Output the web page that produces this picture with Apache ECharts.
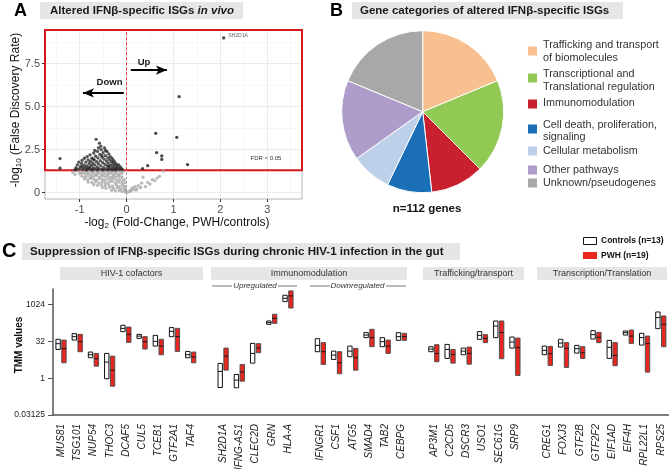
<!DOCTYPE html>
<html><head><meta charset="utf-8">
<script src="https://cdn.jsdelivr.net/npm/echarts@6.0.0/dist/echarts.min.js"></script>
<style>html,body{margin:0;padding:0;background:#fff}#c{width:669px;height:469px}</style>
</head><body><div id="c"></div>
<script>
var FONT = '"Liberation Sans", Arial, Helvetica, sans-serif';

// ---------- Panel A: volcano ----------
var volcanoUp = [[2.07,9.0],[1.12,5.58],[0.62,3.45],[1.07,3.22],[0.64,2.33],[0.75,2.13],[0.75,1.93],[1.30,1.63],[0.45,1.57],[0.34,1.40]];
var volcanoUpNames = ['SH2D1A','','','','','','','','',''];
var volcanoDown = [[-1.42,1.98],[-1.42,1.42],[-1.10,1.33],[-1.08,1.45],[-1.06,1.36],[-1.05,1.62],[-1.02,1.78],[-1.00,1.40],[-0.98,1.52],[-0.96,1.70],[-0.95,1.88],[-0.94,1.48],[-0.93,1.35],[-0.91,1.60],[-0.90,2.00],[-0.88,1.45],[-0.87,1.78],[-0.86,1.32],[-0.85,1.55],[-0.84,2.10],[-0.83,1.38],[-0.82,1.90],[-0.81,1.42],[-0.80,1.68],[-0.79,1.48],[-0.78,2.20],[-0.77,1.82],[-0.76,1.36],[-0.75,1.58],[-0.74,2.00],[-0.73,1.32],[-0.72,1.72],[-0.71,1.44],[-0.71,1.95],[-0.70,2.30],[-0.69,1.90],[-0.68,1.62],[-0.68,2.45],[-0.67,1.38],[-0.66,2.12],[-0.65,3.10],[-0.64,1.80],[-0.63,1.50],[-0.62,2.40],[-0.62,1.33],[-0.61,2.02],[-0.60,1.68],[-0.60,2.60],[-0.59,1.40],[-0.58,2.88],[-0.57,2.22],[-0.56,1.86],[-0.55,1.56],[-0.55,2.70],[-0.54,2.50],[-0.53,1.35],[-0.53,2.15],[-0.52,2.06],[-0.51,1.74],[-0.50,2.32],[-0.50,1.32],[-0.49,1.46],[-0.48,1.95],[-0.47,2.60],[-0.46,1.64],[-0.45,2.15],[-0.45,2.45],[-0.44,1.38],[-0.43,1.84],[-0.42,2.40],[-0.41,1.55],[-0.40,2.02],[-0.40,1.33],[-0.39,1.72],[-0.38,2.25],[-0.38,1.52],[-0.37,1.42],[-0.36,1.90],[-0.35,2.10],[-0.34,1.60],[-0.33,1.36],[-0.32,1.80],[-0.31,2.00],[-0.30,1.50],[-0.30,1.32],[-0.29,1.70],[-0.28,1.88],[-0.27,1.40],[-0.26,1.60],[-0.25,1.78],[-0.24,1.46],[-0.23,1.32],[-0.22,1.66],[-0.21,1.38],[-0.20,1.55],[-0.18,1.44],[-0.17,1.62],[-0.15,1.36],[-0.13,1.50],[-0.11,1.40],[-0.09,1.34]];
var volcanoNS = [[-1.15,1.18],[-1.10,1.05],
[-1.05,1.25],[-0.98,1.22],[-0.92,1.27],[-0.86,1.20],[-0.80,1.26],[-0.74,1.22],[-0.68,1.27],[-0.62,1.21],[-0.56,1.26],[-0.50,1.22],[-0.44,1.27],[-0.38,1.20],[-0.32,1.25],[-0.26,1.21],[-0.20,1.26],[-0.14,1.22],[-0.08,1.25],
[-1.00,1.10],[-0.94,1.14],[-0.88,1.08],[-0.82,1.13],[-0.76,1.06],[-0.70,1.12],[-0.64,1.07],[-0.58,1.14],[-0.52,1.05],[-0.46,1.11],[-0.40,1.08],[-0.34,1.13],[-0.28,1.06],[-0.22,1.10],[-0.16,1.04],[-0.10,1.12],
[-0.95,0.96],[-0.88,0.92],[-0.82,0.98],[-0.76,0.90],[-0.70,0.95],[-0.64,0.99],[-0.58,0.91],[-0.52,0.97],[-0.46,0.93],[-0.40,0.98],[-0.34,0.90],[-0.28,0.95],[-0.22,0.92],[-0.16,0.97],[-0.10,0.90],
[-0.90,0.80],[-0.83,0.76],[-0.77,0.83],[-0.70,0.78],[-0.64,0.74],[-0.58,0.82],[-0.52,0.77],[-0.46,0.72],[-0.40,0.80],[-0.34,0.75],[-0.28,0.82],[-0.22,0.73],[-0.16,0.78],[-0.10,0.70],[-0.05,0.76],
[-0.82,0.62],[-0.74,0.58],[-0.66,0.64],[-0.59,0.57],[-0.52,0.62],[-0.45,0.55],[-0.38,0.60],[-0.31,0.65],[-0.24,0.56],[-0.17,0.61],[-0.10,0.54],[-0.04,0.58],
[-0.70,0.46],[-0.62,0.42],[-0.54,0.47],[-0.46,0.40],[-0.38,0.45],[-0.30,0.38],[-0.22,0.44],[-0.15,0.37],[-0.08,0.42],[-0.03,0.35],
[-0.52,0.30],[-0.44,0.26],[-0.36,0.31],[-0.28,0.24],[-0.20,0.29],[-0.13,0.22],[-0.06,0.26],[-0.02,0.18],
[-0.32,0.14],[-0.24,0.10],[-0.16,0.13],[-0.10,0.08],[-0.04,0.06],[0.00,0.02],[-0.02,0.10],
[0.78,1.26],[0.35,0.90],[0.55,0.75],[0.45,0.60],[0.65,0.85],[0.25,0.40],[0.15,0.20],[0.30,0.30],[0.20,0.15],[0.10,0.10],[0.40,0.35],[0.50,0.50],[0.05,0.05],[0.12,0.28],[0.22,0.22],[0.08,0.15],[0.18,0.35],[0.60,0.70],[0.70,0.95],[0.32,0.55]];
var fdrThreshold = 1.3;
var xTicksA = [-1, 0, 1, 2, 3];
var yTicksA = [0, 2.5, 5, 7.5];

// ---------- Panel B: pie ----------
var pieCategories = ['Trafficking and transport\nof biomolecules','Transcriptional and\nTranslational regulation','Immunomodulation','Cell death, proliferation,\nsignaling','Cellular metabolism','Other pathways','Unknown/pseudogenes'];
var pieCounts = [21, 21, 12, 10, 9, 18, 21];
var pieColors = ['#F8C08F','#92C854','#C8202F','#1B6FB6','#BDD0E9','#AE9DCB','#A8A8A8'];

// ---------- Panel C: TMM boxes (log2 TMM) ----------
var genes = ['MUS81','TSG101','NUP54','THOC3','DCAF5','CUL5','TCEB1','GTF2A1','TAF4',' ',
 'SH2D1A','IFNG-AS1','CLEC2D','GRN','HLA-A','  ',
 'IFNGR1','CSF1','ATG5','SMAD4','TAB2','CEBPG','   ',
 'AP3M1','C2CD5','DSCR3','USO1','SEC61G','SRP9','    ',
 'CREG1','FOXJ3','GTF2B','GTF2F2','EIF1AD','EIF4H','RPL22L1','RPS25'];
var ctrlLow  = [3.9,5.17,2.77,-0.08,6.31,5.40,4.35,5.63,2.77,null, -1.27,-1.31,2.04,7.31,10.39,null, 3.59,2.54,2.91,5.50,4.27,5.13,null, 3.59,2.68,3.18,5.27,5.50,4.08,null, 3.18,4.22,3.40,5.31,2.68,5.85,4.49,6.72];
var ctrlHigh = [5.27,6.04,3.54,3.36,7.17,5.95,5.81,6.86,3.63,null, 2.00,0.50,4.72,7.76,11.25,null, 5.36,3.67,4.35,6.18,5.50,6.18,null, 4.27,4.58,4.08,6.31,7.76,5.58,null, 4.35,5.27,4.45,6.45,5.13,6.40,6.08,8.98];
var ctrlMed  = [4.68,5.63,3.18,2.18,6.76,5.71,4.99,6.35,3.18,null, 0.91,-0.27,3.36,7.54,10.84,null, 4.45,3.13,3.67,5.85,4.95,5.63,null, 3.95,3.90,3.67,5.81,7.07,4.90,null, 3.77,4.76,4.00,5.90,4.18,6.18,5.50,8.22];
var pwhLow   = [2.09,3.59,1.63,-1.09,4.86,3.95,3.18,3.63,2.09,null, 1.09,-0.41,3.45,7.44,9.52,null, 1.86,0.60,1.09,4.27,3.36,5.13,null, 2.23,2.04,1.90,4.82,2.64,0.37,null, 1.73,1.46,2.68,4.82,1.69,4.72,0.82,4.27];
var pwhHigh  = [5.17,5.95,3.36,2.99,6.94,5.63,5.27,6.76,3.54,null, 4.08,1.86,4.68,8.67,11.84,null, 4.82,3.59,4.04,6.63,5.17,6.08,null, 4.54,3.90,4.22,5.90,7.76,5.44,null, 4.31,4.82,4.27,6.22,4.82,6.53,5.71,8.44];
var pwhMed   = [4.00,4.95,2.64,1.09,5.95,4.95,4.35,5.63,2.86,null, 2.99,0.82,4.08,8.12,11.16,null, 3.59,2.09,2.77,5.50,4.35,5.63,null, 3.36,3.22,3.36,5.40,6.18,4.13,null, 3.32,4.04,3.45,5.54,3.09,5.71,4.68,7.31];
var yTicksC = [-5, 0, 5, 10];
var facets = [
  {name:'HIV-1 cofactors', x0:60, x1:203},
  {name:'Immunomodulation', x0:211, x1:407},
  {name:'Trafficking/transport', x0:423, x1:524},
  {name:'Transcription/Translation', x0:537, x1:667}
];

function boxData(lo, hi, md) {
  var out = [];
  for (var i = 0; i < genes.length; i++) if (lo[i] != null) out.push([i, lo[i], hi[i], md[i]]);
  return out;
}
function boxRender(side, fill, stroke) {
  return function (params, api) {
    var ci = api.value(0);
    var pLo = api.coord([ci, api.value(1)]);
    var pHi = api.coord([ci, api.value(2)]);
    var pMd = api.coord([ci, api.value(3)]);
    var bw = api.size([1, 0])[0];
    var w = bw * 0.27;
    var x0 = side < 0 ? pLo[0] - bw * 0.32 : pLo[0] + bw * 0.04;
    var top = pHi[1], h = pLo[1] - pHi[1];
    if (h < 3) { top = (pLo[1] + pHi[1]) / 2 - 1.5; h = 3; }
    return {type:'group', children:[
      {type:'rect', shape:{x:x0, y:top, width:w, height:h}, style:{fill:fill, stroke:stroke, lineWidth:1}},
      {type:'line', shape:{x1:x0, y1:pMd[1], x2:x0 + w, y2:pMd[1]}, style:{stroke:'#111', lineWidth:1}}
    ]};
  };
}

var upData = volcanoUp.map(function (p, i) {
  var d = {value: p};
  if (volcanoUpNames[i]) d.label = {show:true, formatter: volcanoUpNames[i], position:'right', distance:3, fontSize:5, color:'#333', offset:[0,-2]};
  return d;
});

// graphics
var g = [];
function txt(x, y, text, font, opts) {
  var s = {x:x, y:y, text:text, font:font, fill:(opts && opts.fill) || '#1a1a1a', textAlign:(opts && opts.align) || 'left', textVerticalAlign:'middle'};
  if (opts && opts.rich) s.rich = opts.rich;
  var el = {type:'text', style:s, z:100};
  if (opts && opts.rotation) { el.rotation = opts.rotation; el.x = x; el.y = y; s.x = 0; s.y = 0; }
  g.push(el);
}
function rect(x, y, w, h, fill, stroke) {
  g.push({type:'rect', shape:{x:x, y:y, width:w, height:h}, style:{fill:fill, stroke:stroke || null, lineWidth:1}, z:90});
}
function line(x1, y1, x2, y2, color) {
  g.push({type:'line', shape:{x1:x1, y1:y1, x2:x2, y2:y2}, style:{stroke:color, lineWidth:1}, z:90});
}
// Panel letters & titles
txt(14, 11, 'A', 'bold 18px ' + FONT, {fill:'#000'});
txt(330, 11, 'B', 'bold 18px ' + FONT, {fill:'#000'});
txt(2, 251, 'C', 'bold 20px ' + FONT, {fill:'#000'});
rect(40, 2, 203, 17, '#e6e6e6');
txt(50, 10.5, '{b|Altered IFNβ-specific ISGs }{bi|in vivo}', '', {rich:{b:{font:'bold 11.5px ' + FONT, fill:'#1a1a1a'}, bi:{font:'italic bold 11.5px ' + FONT, fill:'#1a1a1a'}}});
rect(352, 2, 271, 17, '#e6e6e6');
txt(360, 10.5, 'Gene categories of altered IFNβ-specific ISGs', 'bold 11.5px ' + FONT);
rect(22, 243, 438, 17, '#e6e6e6');
txt(30, 251.5, 'Suppression of IFNβ-specific ISGs during chronic HIV-1 infection in the gut', 'bold 11.6px ' + FONT);
// Panel A annotations
txt(16, 110, '-log{s|10} (False Discovery Rate)', '12px ' + FONT, {rotation:Math.PI / 2, align:'center', fill:'#111', rich:{s:{font:'8px ' + FONT, fill:'#111', verticalAlign:'bottom', padding:[6,0,0,0]}}});
txt(177, 223, '-log{s|2} (Fold-Change, PWH/controls)', '12px ' + FONT, {align:'center', fill:'#111', rich:{s:{font:'8px ' + FONT, fill:'#111', verticalAlign:'bottom', padding:[6,0,0,0]}}});
txt(144, 62, 'Up', 'bold 9.5px ' + FONT, {align:'center'});
txt(109.5, 82, 'Down', 'bold 9.5px ' + FONT, {align:'center'});
txt(266, 158, 'FDR < 0.05', '6px ' + FONT, {align:'center', fill:'#333'});
// Panel B legend
var legY = [[51, 45, 57.7], [78, 74, 86.7], [104, 103.3], [129, 125, 136.7], [151, 151], [170, 170], [183, 183.3]];
pieCategories.forEach(function (c, i) {
  rect(528, legY[i][0] - 4.5, 9, 9, pieColors[i]);
  var lines = c.split('\n');
  lines.forEach(function (l, j) { txt(543, legY[i][1 + j], l, '10.8px ' + FONT, {fill:'#333'}); });
});
txt(427, 209, 'n=112 genes', 'bold 11.5px ' + FONT, {align:'center', fill:'#111'});
// Panel C strips
facets.forEach(function (f) {
  rect(f.x0, 267, f.x1 - f.x0, 13, '#e6e6e6');
  txt((f.x0 + f.x1) / 2, 273.5, f.name, '9px ' + FONT, {align:'center', fill:'#333'});
});
line(212, 286, 232, 286, '#777'); txt(255, 286, 'Upregulated', 'italic 8px ' + FONT, {align:'center', fill:'#333'}); line(278, 286, 297, 286, '#777');
line(310, 286, 330, 286, '#777'); txt(357.5, 286, 'Downregulated', 'italic 8px ' + FONT, {align:'center', fill:'#333'}); line(386, 286, 406, 286, '#777');
// Panel C y-axis title
txt(19, 345, 'TMM values', 'bold 10px ' + FONT, {rotation:Math.PI / 2, align:'center', fill:'#111'});
// Panel C legend
rect(583.5, 237.5, 13, 7, '#fff', '#111');
txt(601, 241, 'Controls (n=13)', 'bold 8.5px ' + FONT, {fill:'#111'});
rect(583, 252, 14, 7, '#E8251F');
txt(601, 255.5, 'PWH (n=19)', 'bold 8.5px ' + FONT, {fill:'#111'});

var chart = echarts.init(document.getElementById('c'), null, {renderer:'canvas'});
chart.setOption({
  animation:false,
  textStyle:{fontFamily:FONT},
  grid:[
    {left:45, top:30, width:257, height:169, show:true, borderColor:'#b5b5b5', borderWidth:1, backgroundColor:'#fff', containLabel:false, outerBoundsMode:'none'},
    {left:53, top:289, width:616, height:126, containLabel:false, outerBoundsMode:'none'}
  ],
  xAxis:[
    {type:'value', gridIndex:0, min:-1.74, max:3.74, position:'bottom', axisLine:{show:false, onZero:false},
     axisTick:{show:true, length:3, customValues:xTicksA, lineStyle:{color:'#333'}},
     axisLabel:{customValues:xTicksA, fontSize:11, color:'#4d4d4d', margin:5},
     splitLine:{show:true, lineStyle:{color:'#e6e6e6', width:0.8}}},
    {type:'value', gridIndex:0, min:-1.74, max:3.74, position:'top', axisLine:{show:false, onZero:false}, axisLabel:{show:false},
     axisTick:{show:false, customValues:[-1.5,-0.5,0.5,1.5,2.5,3.5]},
     splitLine:{show:true, lineStyle:{color:'#f1f1f1', width:0.6}}},
    {type:'category', gridIndex:1, data:genes, boundaryGap:true, position:'bottom',
     axisLine:{onZero:false, lineStyle:{color:'#555', width:1.5}},
     axisTick:{alignWithLabel:true, interval:0, length:3, lineStyle:{color:'#555'}},
     axisLabel:{interval:0, rotate:90, fontStyle:'italic', fontSize:10, color:'#222', margin:9}}
  ],
  yAxis:[
    {type:'value', gridIndex:0, min:-0.37, max:9.46, position:'left', axisLine:{show:false, onZero:false},
     axisTick:{show:true, length:3, customValues:yTicksA, lineStyle:{color:'#333'}},
     axisLabel:{customValues:yTicksA, fontSize:11, color:'#4d4d4d', margin:5,
       formatter:function (v) { return v === 0 ? '0' : v.toFixed(1); }},
     splitLine:{show:true, lineStyle:{color:'#e6e6e6', width:0.8}}},
    {type:'value', gridIndex:0, min:-0.37, max:9.46, position:'right', axisLine:{show:false, onZero:false}, axisLabel:{show:false},
     axisTick:{show:false, customValues:[1.25,3.75,6.25,8.75]},
     splitLine:{show:true, lineStyle:{color:'#f1f1f1', width:0.6}}},
    {type:'value', gridIndex:1, min:-5, max:12.1, interval:5, position:'left',
     axisLine:{show:true, onZero:false, lineStyle:{color:'#555', width:1.5}},
     axisTick:{show:true, length:5, customValues:yTicksC, lineStyle:{color:'#555'}},
     axisLabel:{customValues:yTicksC, fontSize:8.5, color:'#222', margin:8,
       formatter:function (v) { return String(Math.pow(2, v)); }},
     splitLine:{show:false}}
  ],
  series:[
    {type:'scatter', xAxisIndex:0, yAxisIndex:0, data:volcanoNS, symbolSize:3.3, itemStyle:{color:'#a9a9a9'}, silent:true,
     markArea:{silent:true, itemStyle:{color:'rgba(0,0,0,0)', borderColor:'#d7191c', borderWidth:2},
       data:[[{coord:[-1.74, fdrThreshold]}, {coord:[3.74, 9.46]}]]},
     markLine:{silent:true, symbol:['none','none'], label:{show:false},
       data:[
         [{coord:[0, -0.37], lineStyle:{color:'#999', type:[2,2], width:1}}, {coord:[0, fdrThreshold]}],
         [{coord:[0, fdrThreshold], lineStyle:{color:'#e0353a', type:[3,2], width:1}}, {coord:[0, 9.46]}]
       ]}},
    {type:'scatter', xAxisIndex:0, yAxisIndex:0, data:volcanoDown, symbolSize:3.3, itemStyle:{color:'#2a2a2a'}, silent:true},
    {type:'scatter', xAxisIndex:0, yAxisIndex:0, data:upData, symbolSize:3.3, itemStyle:{color:'#1a1a1a'}, silent:true,
     markLine:{silent:true, symbol:['none','arrow'], symbolSize:[7,11], label:{show:false}, lineStyle:{color:'#000', width:2, type:'solid'},
       data:[
         [{coord:[0.09, 7.13]}, {coord:[0.86, 7.13]}],
         [{coord:[-0.06, 5.80]}, {coord:[-0.93, 5.80]}]
       ]}},
    {type:'pie', center:[422.7, 111.7], radius:81, startAngle:90, clockwise:true, silent:true,
     label:{show:false}, labelLine:{show:false},
     itemStyle:{borderColor:'#fff', borderWidth:1},
     data:pieCategories.map(function (c, i) { return {name:c, value:pieCounts[i], itemStyle:{color:pieColors[i]}}; })},
    {type:'custom', xAxisIndex:2, yAxisIndex:2, data:boxData(ctrlLow, ctrlHigh, ctrlMed), silent:true,
     encode:{x:0, y:[1,2,3]}, renderItem:boxRender(-1, '#ffffff', '#111')},
    {type:'custom', xAxisIndex:2, yAxisIndex:2, data:boxData(pwhLow, pwhHigh, pwhMed), silent:true,
     encode:{x:0, y:[1,2,3]}, renderItem:boxRender(1, '#E8251F', '#505050')}
  ],
  graphic:g
});
</script></body></html>
